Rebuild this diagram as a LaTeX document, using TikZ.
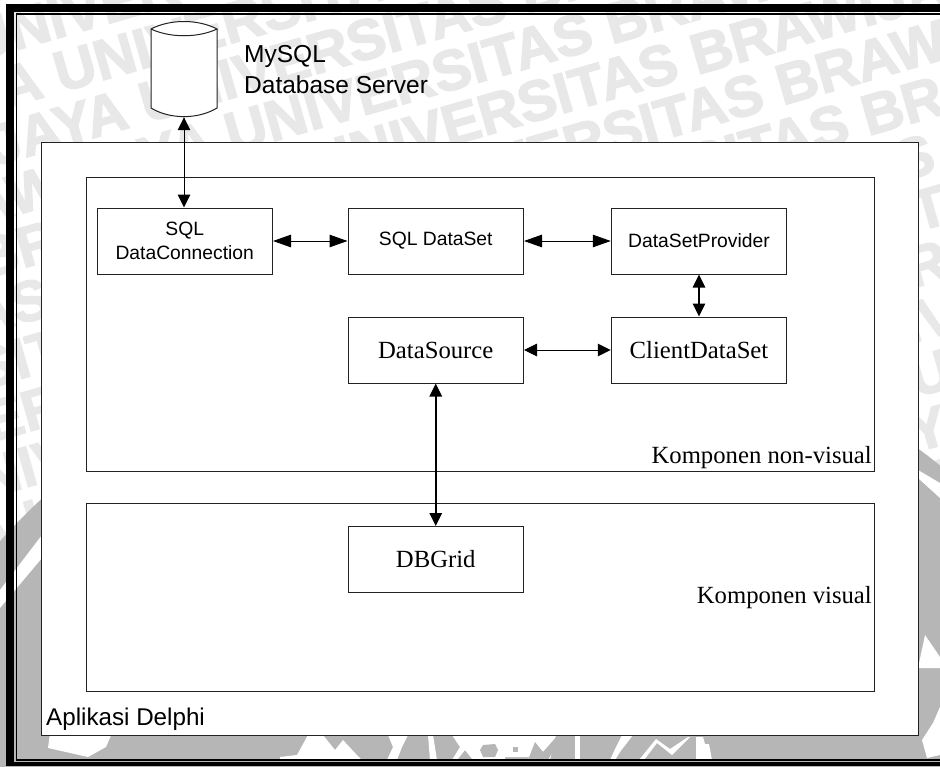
\documentclass[tikz,border=0pt]{standalone}
\usepackage{fontspec}
\setmainfont{Liberation Serif}
\setsansfont{Liberation Sans}
\newfontfamily\wmfont{Liberation Sans Bold}[FakeBold=2.5]
\usetikzlibrary{arrows.meta}
\definecolor{wmlight}{HTML}{E8E8E8}
\definecolor{wmdark}{HTML}{B6B6B6}
\definecolor{edge}{HTML}{222222}
\newcommand{\wmtext}{UNIVERSITAS BRAWIJAYA}
\tikzset{
  x=1pt,y=-1pt,
  panel/.style={draw=edge,fill=white,line width=1pt,inner sep=0pt},
  compbox/.style={draw=edge,fill=white,line width=1pt,minimum width=175.5pt,minimum height=66pt,inner sep=0pt,align=center},
  sansbox/.style={compbox,font=\sffamily\fontsize{19.3}{24}\selectfont},
  serifbox/.style={compbox,font=\rmfamily\fontsize{24.7}{28}\selectfont},
  link/.style={{Triangle[length=13pt,width=12.5pt]}-{Triangle[length=13pt,width=12.5pt]},line width=1pt,black},
  longlink/.style={{Triangle[length=18pt,width=12.5pt]}-{Triangle[length=18pt,width=12.5pt]},line width=1pt,black},
  heavylink/.style={link,line width=1.6pt},
  wmleft/.style={rotate=16,anchor=base east,inner sep=0pt,text=wmlight,font=\wmfont\fontsize{57}{57}\selectfont},
  wmright/.style={rotate=16,anchor=base west,inner sep=0pt,text=wmlight,font=\wmfont\fontsize{57}{57}\selectfont},
  logo/.style={fill=white,draw=none},
  logodark/.style={fill=wmdark,draw=none}
}
\begin{document}
\begin{tikzpicture}
\useasboundingbox (0,0) rectangle (940,766);
\fill[white] (0,0) rectangle (940,766);
\begin{scope}
\clip (0,0) rectangle (940,766);
\foreach \k in {-6,...,9}{
  \node[wmright] (wr\k) at ({697+\k*85.5},{75+\k*30.5}) {BRAWIJAYA \wmtext};
  \node[wmleft] (wl\k) at ({697+\k*85.5},{75+\k*30.5}) {\wmtext\ \wmtext\ UNIVERSITAS\ \mbox{}};
}
\fill[wmdark] (510,1000) circle (686);
% logo remnants
\fill[logo] (0,590) -- (42,535) -- (42,558) -- (0,608) -- cycle;
\fill[logo] (918,470) -- (940,483) -- (940,498) -- (918,478) -- cycle;
\fill[logo] (925,635) -- (940,657) -- (940,668) -- (918,668) -- cycle;
\fill[logo] (940,707) -- (933,723) -- (922,740) -- (927,758) -- (940,755) -- cycle;
\fill[logo] (50,733) -- (112,733) -- (106,747) -- (88,757) -- (48,748) -- cycle;
\fill[logo] (280,757) -- (297,755) -- (308,735) -- (323,735) -- (335,750) -- (343,740) -- (355,753) -- (362,760) -- (280,760) -- cycle;
\fill[logo] (388,735) -- (393,747) -- (387,760) -- (397,760) -- (402,747) -- (408,735) -- cycle;
\fill[logo] (428,735) -- (433,735) -- (437,760) -- (430,760) -- cycle;
\fill[logo] (452,735) -- (460,747) -- (452,760) -- (457,760) -- (465,750) -- (473,760) -- (505,760) -- (505,757) -- (530,757) -- (527,760) -- (550,760) -- (556,735) -- cycle;
\fill[logodark] (483,745) -- (495,744) -- (498,750) -- (495,757) -- (483,757) -- (480,750) -- cycle;
\fill[logodark] (513,747) rectangle (518,752);
\fill[logodark] (535,742) -- (543,752) -- (558,735) -- (562,735) -- (548,760) -- (528,760) -- cycle;
\fill[logo] (575,735) -- (580,735) -- (580,760) -- (575,760) -- cycle;
\fill[logo] (622,735) -- (633,735) -- (620,752) -- (615,760) -- (610,760) -- (616,747) -- cycle;
\fill[logo] (639,760) -- (656,739) -- (670,749) -- (688,737) -- (690,737) -- (672,755) -- (657,743) -- (644,760) -- cycle;
\fill[logo] (696,737) -- (703,737) -- (705,744) -- (709,744) -- (712,760) -- (696,760) -- cycle;
\end{scope}
% frame
\fill[black] (6,4) rectangle (14,766);
\fill[black] (6,4) rectangle (940,12);
\fill[black] (6,762) rectangle (940,766);
\draw[black,line width=1.6pt] (940,14) -- (16.5,14) -- (16.5,760) -- (940,760);
% panels
\node[panel,minimum width=877pt,minimum height=593pt] (app) at (480,438.5) {};
\node[panel,minimum width=788.5pt,minimum height=293.5pt] (nonvis) at (480.25,324.25) {};
\node[panel,minimum width=788.5pt,minimum height=188pt] (vis) at (480.25,597) {};
% database
\node[minimum width=66pt,minimum height=95pt,inner sep=0pt] (db) at (184,69.5) {};
\draw[edge,fill=white,line width=1pt] (151,29) .. controls (170,19) and (198,19) .. (217,29) -- (217,108) .. controls (198,119.5) and (170,119.5) .. (151,108) -- cycle;
\draw[edge,line width=1pt] (151,29) .. controls (170,38) and (198,38) .. (217,29);
% components
\node[sansbox] (conn) at (184.75,241) {SQL\\DataConnection};
\node[sansbox] (dset) at (435.75,241) {SQL DataSet};
\node[sansbox] (prov) at (699,241) {DataSetProvider};
\node[serifbox] (src) at (435.75,350) {DataSource};
\node[serifbox] (cds) at (699,350) {ClientDataSet};
\node[serifbox] (grid) at (435.75,559.5) {DBGrid};
% connectors
\draw[link] (db.south) -- (db.south |- conn.north);
\draw[longlink] (conn.east) -- (dset.west);
\draw[longlink] (dset.east) -- (prov.west);
\draw[heavylink] (prov.south) -- (cds.north);
\draw[link] (src.east) -- (cds.west);
\draw[heavylink] (src.south) -- (grid.north);
% labels
\node[anchor=base west,inner sep=0pt,align=left,font=\sffamily\fontsize{24.5}{30.5}\selectfont] (dblabel) at (244,93) {MySQL\\Database Server};
\node[anchor=base east,inner sep=0pt,font=\rmfamily\fontsize{24.7}{28}\selectfont] (nvlabel) at (872,463.5) {Komponen non-visual};
\node[anchor=base east,inner sep=0pt,font=\rmfamily\fontsize{24.7}{28}\selectfont] (vlabel) at (872,603.5) {Komponen visual};
\node[anchor=base west,inner sep=0pt,font=\sffamily\fontsize{24.2}{28}\selectfont] (applabel) at (46,725) {Aplikasi Delphi};
\end{tikzpicture}
\end{document}
